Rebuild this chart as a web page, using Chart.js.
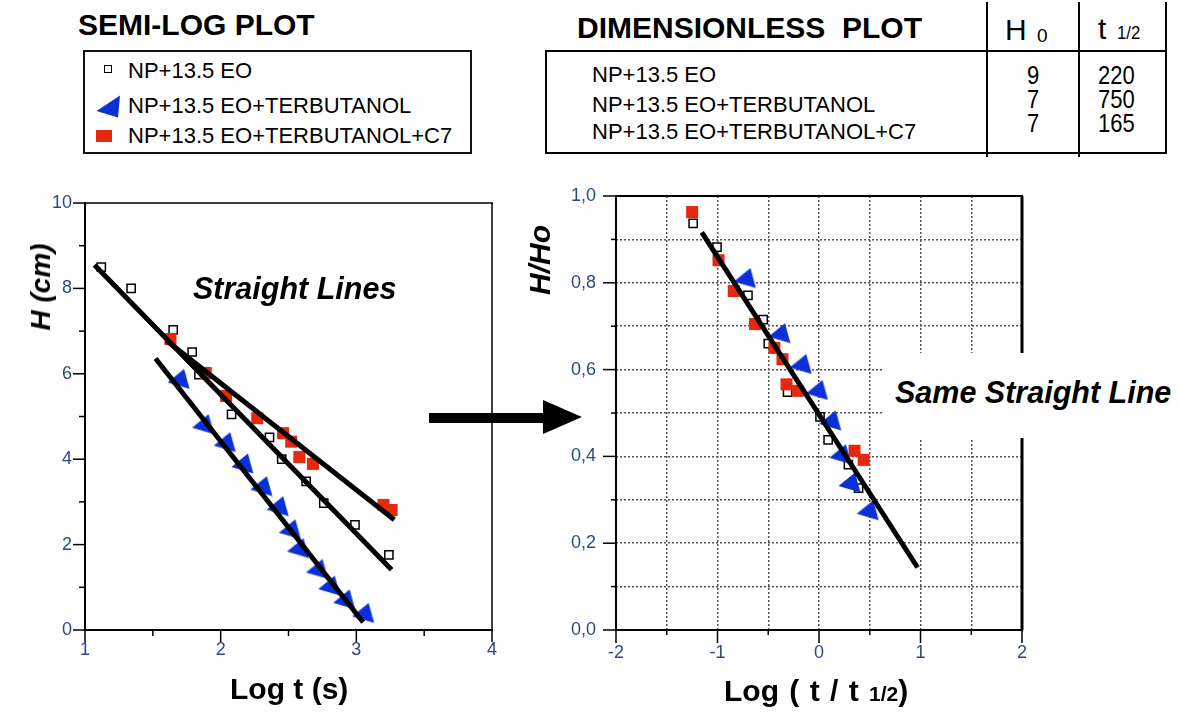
<!DOCTYPE html>
<html>
<head>
<meta charset="utf-8">
<title>Semi-log and dimensionless plot</title>
<script src="https://cdn.jsdelivr.net/npm/chart.js@4.4.1/dist/chart.umd.min.js"></script>
<style>
  html, body { margin: 0; padding: 0; background: #fff; }
  body { width: 1180px; height: 713px; position: relative; overflow: hidden;
         font-family: 'Liberation Sans', Arial, sans-serif; color: #000; }
  .t { position: absolute; white-space: pre; line-height: 1; }
  .b { font-weight: bold; }
  .bi { font-weight: bold; font-style: italic; }
  .rot { transform: translate(-50%, -50%) rotate(-90deg); }
  .ln { position: absolute; background: #000; }
  .narrow { display: inline-block; transform: scaleX(0.88); transform-origin: left center; }
  canvas { position: absolute; }
  #semiLog { left: 0; top: 177px; }
  #dimless { left: 520px; top: 164px; }
  #noteBox { position: absolute; left: 884px; top: 353px; width: 296px; height: 85px; background: #fff; z-index: 2; }
</style>
</head>
<body>

<!-- left header + legend -->
<div class="t b" style="left:78px; top:10px; font-size:30px;">SEMI-LOG PLOT</div>
<div style="position:absolute; left:83px; top:50px; width:389px; height:104px; box-sizing:border-box; border:2px solid #111;"></div>
<div style="position:absolute; left:104px; top:65px; width:8px; height:8px; box-sizing:border-box; border:1.5px solid #000; background:#fff;"></div>
<canvas id="legWedge" width="26" height="23" style="left:96px; top:95px;"></canvas>
<div style="position:absolute; left:96px; top:130px; width:16px; height:12px; background:#e6280f;"></div>
<div class="t" style="left:128px; top:60px; font-size:22px;">NP+13.5 EO</div>
<div class="t" style="left:128px; top:95px; font-size:22px;">NP+13.5 EO+TERBUTANOL</div>
<div class="t" style="left:128px; top:125px; font-size:22px;">NP+13.5 EO+TERBUTANOL+C7</div>

<!-- right header + table -->
<div class="t b" style="left:577px; top:13px; font-size:30px;">DIMENSIONLESS  PLOT</div>
<div class="ln" style="left:545px; top:50px; width:622px; height:2px;"></div>
<div class="ln" style="left:545px; top:152px; width:622px; height:2px;"></div>
<div class="ln" style="left:545px; top:50px; width:2px; height:104px;"></div>
<div class="ln" style="left:986px; top:2px; width:2px; height:155px;"></div>
<div class="ln" style="left:1078px; top:2px; width:2px; height:155px;"></div>
<div class="ln" style="left:1165px; top:2px; width:2px; height:152px;"></div>
<div class="t" style="left:1005px; top:15px; font-size:30px;">H</div>
<div class="t" style="left:1037px; top:26px; font-size:19px;">0</div>
<div class="t" style="left:1098px; top:14px; font-size:30px;">t</div>
<div class="t" style="left:1117px; top:23px; font-size:19px;"><span class="narrow">1/2</span></div>
<div class="t" style="left:592px; top:64px; font-size:22px;">NP+13.5 EO</div>
<div class="t" style="left:592px; top:94px; font-size:22px;">NP+13.5 EO+TERBUTANOL</div>
<div class="t" style="left:592px; top:121px; font-size:22px;">NP+13.5 EO+TERBUTANOL+C7</div>
<div class="t" style="left:1027px; top:63px; font-size:25px;"><span class="narrow">9</span></div>
<div class="t" style="left:1027px; top:87px; font-size:25px;"><span class="narrow">7</span></div>
<div class="t" style="left:1027px; top:111px; font-size:25px;"><span class="narrow">7</span></div>
<div class="t" style="left:1098px; top:63px; font-size:25px;"><span class="narrow">220</span></div>
<div class="t" style="left:1098px; top:87px; font-size:25px;"><span class="narrow">750</span></div>
<div class="t" style="left:1098px; top:111px; font-size:25px;"><span class="narrow">165</span></div>

<!-- charts -->
<canvas id="semiLog" width="520" height="503"></canvas>
<canvas id="dimless" width="660" height="516"></canvas>

<!-- axis titles and notes -->
<div class="t bi rot" style="left:41px; top:287px; font-size:28px;">H (cm)</div>
<div class="t bi rot" style="left:540px; top:260px; font-size:30px;">H/Ho</div>
<div class="t b" style="left:230px; top:674px; font-size:30px;">Log t (s)</div>
<div class="t b" style="left:724px; top:676px; font-size:30px; word-spacing:2px;">Log ( t / t <span style="font-size:21px;">1/2</span>)</div>
<div class="t bi" style="left:193px; top:273px; font-size:30.5px;">Straight Lines</div>
<div id="noteBox"><div class="t bi" style="left:11px; top:24px; font-size:30.5px;">Same Straight Line</div></div>

<svg style="position:absolute; left:425px; top:395px;" width="165" height="45">
  <rect x="4" y="18" width="118" height="10" fill="#000"/>
  <polygon points="118,5 157,22 118,39" fill="#000"/>
</svg>

<script>
// ---- semi-log plot: H (cm) vs log t (s) ----
var semiEO_x = [1.12, 1.34, 1.65, 1.79, 1.84, 2.08, 2.36, 2.45, 2.63, 2.76, 2.99, 3.24];
var semiEO_y = [8.5, 8.0, 7.03, 6.51, 5.98, 5.05, 4.51, 4.0, 3.48, 2.97, 2.46, 1.76];
var semiTB_x = [1.69, 1.87, 2.03, 2.16, 2.30, 2.42, 2.51, 2.57, 2.71, 2.80, 2.91, 3.05];
var semiTB_y = [5.88, 4.82, 4.40, 3.90, 3.37, 2.90, 2.36, 1.92, 1.43, 1.04, 0.72, 0.40];
var semiC7_x = [1.63, 1.89, 2.04, 2.27, 2.46, 2.52, 2.58, 2.68, 3.20, 3.26];
var semiC7_y = [6.81, 6.02, 5.48, 4.96, 4.61, 4.41, 4.05, 3.89, 2.93, 2.81];
// fitted straight lines (end points)
var semiFitEO_x = [1.07, 3.26], semiFitEO_y = [8.55, 1.41];
var semiFitTB_x = [1.52, 3.05], semiFitTB_y = [6.36, 0.18];
var semiFitC7_x = [1.60, 3.28], semiFitC7_y = [6.78, 2.58];

// ---- dimensionless plot: H/Ho vs log(t/t1/2) ----
var dimEO_x = [-1.24, -1.005, -0.70, -0.55, -0.50, -0.31, 0.01, 0.09, 0.29, 0.39];
var dimEO_y = [0.937, 0.882, 0.771, 0.715, 0.660, 0.548, 0.491, 0.438, 0.381, 0.327];
var dimTB_x = [-0.73, -0.39, -0.18, -0.02, 0.11, 0.21, 0.30, 0.48];
var dimTB_y = [0.811, 0.684, 0.613, 0.553, 0.483, 0.405, 0.340, 0.276];
var dimC7_x = [-1.25, -0.99, -0.84, -0.63, -0.44, -0.36, -0.32, -0.21, 0.35, 0.44];
var dimC7_y = [0.963, 0.852, 0.781, 0.705, 0.650, 0.624, 0.566, 0.551, 0.413, 0.392];
var dimFit_x = [-1.155, 0.971], dimFit_y = [0.916, 0.144];

var RED = '#e6280f';
var BLUE = '#0c30d8';
var TICK_COLOR = '#2a4a86';

Chart.defaults.font.family = "'Liberation Sans', Arial, sans-serif";
Chart.defaults.font.size = 18;
Chart.defaults.animation = false;

function pts(xs, ys) {
    return xs.map(function (x, i) { return {x: x, y: ys[i]}; });
}

// blue marker: a skewed triangle
function makeWedge(canvas, w, h, p) {
    var c = canvas || document.createElement('canvas');
    c.width = w; c.height = h;
    var g = c.getContext('2d');
    g.fillStyle = BLUE;
    g.beginPath();
    g.moveTo(p[0][0], p[0][1]);
    g.lineTo(p[1][0], p[1][1]);
    g.lineTo(p[2][0], p[2][1]);
    g.closePath();
    g.fill();
    return c;
}
var wedge = makeWedge(null, 23, 21, [[0.5, 14], [17, 0.5], [22.5, 20.5]]);
makeWedge(document.getElementById('legWedge'), 26, 23, [[0.5, 16], [24, 0.5], [22, 22.5]]);

function fitLine(xs, ys) {
    return {data: pts(xs, ys), showLine: true, borderColor: '#000', borderWidth: 5,
            pointRadius: 0, fill: false, order: 0, borderCapStyle: 'butt'};
}
function eoSet(xs, ys) {
    return {data: pts(xs, ys), pointStyle: 'rect', pointRadius: 5.8, borderWidth: 1.5,
            borderColor: '#000', backgroundColor: '#fff', order: 3};
}
function c7Set(xs, ys) {
    return {data: pts(xs, ys), pointStyle: 'rect', pointRadius: 8.5, borderWidth: 0,
            backgroundColor: RED, borderColor: RED, order: 2};
}
function tbSet(xs, ys) {
    return {data: pts(xs, ys), pointStyle: wedge, pointRadius: 10, order: 1};
}

function isStep(v, step) {
    var q = v / step;
    return Math.abs(q - Math.round(q)) < 1e-6;
}

// ticks pointing out and the box round the plot area
var framePlugin = {
    id: 'frame',
    afterDraw: function (chart, args, o) {
        var ctx = chart.ctx, a = chart.chartArea;
        var xs = chart.scales.x, ys = chart.scales.y;
        ctx.save();
        ctx.setLineDash([]);
        ctx.strokeStyle = '#000';
        ctx.lineWidth = 1.5;
        xs.ticks.forEach(function (t) {
            var px = xs.getPixelForValue(t.value);
            var len = isStep(t.value, o.xMajor) ? o.majorLen : o.minorLen;
            ctx.beginPath(); ctx.moveTo(px, a.bottom); ctx.lineTo(px, a.bottom + len); ctx.stroke();
        });
        ys.ticks.forEach(function (t) {
            var py = ys.getPixelForValue(t.value);
            var len = isStep(t.value, o.yMajor) ? o.majorLen : o.minorLen;
            ctx.beginPath(); ctx.moveTo(a.left, py); ctx.lineTo(a.left - len, py); ctx.stroke();
        });
        function side(w, x1, y1, x2, y2) {
            ctx.lineWidth = w;
            ctx.beginPath(); ctx.moveTo(x1, y1); ctx.lineTo(x2, y2); ctx.stroke();
        }
        side(o.top, a.left - 1, a.top, a.right + 1, a.top);
        side(o.right, a.right, a.top, a.right, a.bottom);
        side(o.left, a.left, a.top - 1, a.left, a.bottom + 1);
        side(o.bottom, a.left - 1, a.bottom, a.right + 1, a.bottom);
        ctx.restore();
    }
};

var semiChart = new Chart(document.getElementById('semiLog'), {
    type: 'scatter',
    data: {
        datasets: [
            fitLine(semiFitEO_x, semiFitEO_y),
            fitLine(semiFitC7_x, semiFitC7_y),
            fitLine(semiFitTB_x, semiFitTB_y),
            eoSet(semiEO_x, semiEO_y),
            c7Set(semiC7_x, semiC7_y),
            tbSet(semiTB_x, semiTB_y)
        ]
    },
    options: {
        responsive: false,
        layout: {padding: {top: 26, right: 28, left: 0, bottom: 0}},
        plugins: {
            legend: {display: false},
            tooltip: {enabled: false},
            frame: {xMajor: 1, yMajor: 2, majorLen: 12, minorLen: 6, top: 1.5, right: 1.5, left: 2, bottom: 2}
        },
        scales: {
            x: {
                type: 'linear', min: 1, max: 4,
                ticks: {stepSize: 0.5, autoSkip: false, maxRotation: 0, padding: 9, font: {size: 18}, color: TICK_COLOR,
                        callback: function (v) { return isStep(v, 1) ? String(v) : ''; }},
                grid: {drawOnChartArea: false, drawTicks: false},
                border: {display: false},
                afterFit: function (s) { s.height = 50; }
            },
            y: {
                type: 'linear', min: 0, max: 10,
                ticks: {stepSize: 1, autoSkip: false, padding: 13, font: {size: 18}, color: TICK_COLOR,
                        callback: function (v) { return isStep(v, 2) ? String(v) : ''; }},
                grid: {drawOnChartArea: false, drawTicks: false},
                border: {display: false},
                afterFit: function (s) { s.width = 85; }
            }
        }
    },
    plugins: [framePlugin]
});

function gridColor(min, max) {
    return function (c) {
        var v = c.tick ? c.tick.value : null;
        if (v === null || Math.abs(v - min) < 1e-6 || Math.abs(v - max) < 1e-6) return 'rgba(0,0,0,0)';
        return '#555';
    };
}

var dimChart = new Chart(document.getElementById('dimless'), {
    type: 'scatter',
    data: {
        datasets: [
            fitLine(dimFit_x, dimFit_y),
            eoSet(dimEO_x, dimEO_y),
            c7Set(dimC7_x, dimC7_y),
            tbSet(dimTB_x, dimTB_y)
        ]
    },
    options: {
        responsive: false,
        layout: {padding: {top: 32, right: 158, left: 0, bottom: 0}},
        plugins: {
            legend: {display: false},
            tooltip: {enabled: false},
            frame: {xMajor: 1, yMajor: 0.2, majorLen: 13, minorLen: 5, top: 2, right: 3, left: 2, bottom: 2}
        },
        scales: {
            x: {
                type: 'linear', min: -2, max: 2,
                ticks: {stepSize: 0.5, autoSkip: false, maxRotation: 0, padding: 12, font: {size: 18}, color: TICK_COLOR,
                        callback: function (v) { return isStep(v, 1) ? String(v) : ''; }},
                grid: {drawOnChartArea: true, drawTicks: false, lineWidth: 1.5, color: gridColor(-2, 2)},
                border: {display: false, dash: [2, 2]},
                afterFit: function (s) { s.height = 50; }
            },
            y: {
                type: 'linear', min: 0, max: 1,
                ticks: {stepSize: 0.1, autoSkip: false, padding: 20, font: {size: 18}, color: TICK_COLOR,
                        callback: function (v) { return isStep(v, 0.2) ? v.toFixed(1).replace('.', ',') : ''; }},
                grid: {drawOnChartArea: true, drawTicks: false, lineWidth: 1.5, color: gridColor(0, 1)},
                border: {display: false, dash: [2, 2]},
                afterFit: function (s) { s.width = 96; }
            }
        }
    },
    plugins: [framePlugin]
});
</script>
</body>
</html>
